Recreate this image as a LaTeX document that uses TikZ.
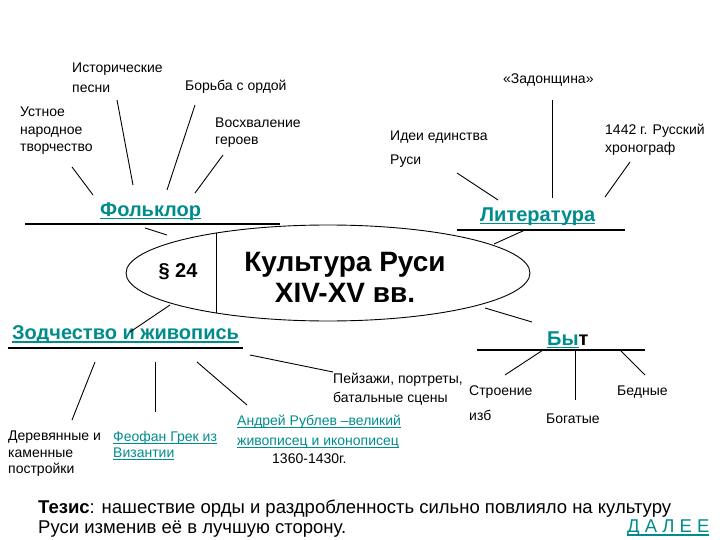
\documentclass[tikz,border=0pt]{standalone}
\usepackage{fontspec}
\setmainfont{Liberation Sans}
\usetikzlibrary{shapes.geometric}
\definecolor{linkteal}{RGB}{0,140,140}
\newcommand{\lnk}[1]{{\color{linkteal}\setbox0\hbox{#1}\rlap{\rule[-2.6pt]{\wd0}{1.1pt}}\box0}}
\newcommand{\fs}[2]{\fontsize{#1}{#2}\selectfont}
\tikzset{
  lbl/.style={anchor=north west,inner sep=0pt,align=left,font=\fs{14}{17.5}},
  lead/.style={font=\fs{14}{#1}},
  head/.style={anchor=west,inner sep=0pt,font=\fs{20}{23}\bfseries},
  rule/.style={line width=2.6pt},
  link/.style={line width=0.9pt}
}
\begin{document}
\begin{tikzpicture}[x=1pt,y=-1pt]
\useasboundingbox (0,0) rectangle (720,540);

      \node[ellipse,draw,line width=0.9pt,minimum width=404pt,minimum height=96pt,inner sep=0pt]
        (core) at (328,273) {};
      \begin{scope}
        \clip (328,273) ellipse [x radius=202pt,y radius=48pt];
        \draw[link] (216,200) -- (216,340);
      \end{scope}
      \node[font=\fs{20}{24}\bfseries] (para) at (178,272) {{\rmfamily\S} 24};
      \node[font=\fs{28}{31}\bfseries,align=center] (title) at (345,277) {Культура Руси\\XIV-XV вв.};

      \begin{scope}[every node/.style={head}]
        \node (folk) at (100,212) {\lnk{Фольклор}};
        \node (lit)  at (480,217) {\lnk{Литература}};
        \node (zod)  at (12,335)  {\lnk{Зодчество и живопись}};
        \node (byt)  at (547,340) {\lnk{Бы}т};
      \end{scope}

      \draw[rule] (25,224) -- (280,224);
      \draw[rule] (457,230) -- (625,230);
      \draw[rule] (8,348) -- (243,348);
      \draw[rule] (477,350) -- (645,350);

      \begin{scope}[every node/.style={lbl}]
        \node[lead=19.5] (hist)   at (72,63)   {Исторические\\песни};
        \node            (borba)  at (185,80)  {Борьба с ордой};
        \node            (ustn)   at (20,107)  {Устное\\народное\\творчество};
        \node[lead=17]   (vosh)   at (215,118) {Восхваление\\героев};
        \node            (zad)    at (503,74)  {«Задонщина»};
        \node[lead=24]   (idei)   at (390,131) {Идеи единства\\Руси};
        \node[lead=18]   (chron)  at (605,124) {1442 г. Русский\\хронограф};
        \node[lead=19]   (peiz)   at (333,373) {Пейзажи, портреты,\\батальные сцены};
        \node[lead=25]   (stroen) at (469,386) {Строение\\изб};
        \node            (bogat)  at (546,414) {Богатые};
        \node            (bedn)   at (617,386) {Бедные};
        \node[lead=16.5] (derev)  at (8,431)   {Деревянные и\\каменные\\постройки};
        \node[lead=16]   (feofan) at (113,431) {\lnk{Феофан Грек из}\\\lnk{Византии}};
        \node[lead=20]   (rublev) at (237,415) {\lnk{Андрей Рублев –великий}\\\lnk{живописец и иконописец}\\[-2pt]\hspace*{35pt}1360-1430г.};
        \node[font=\fs{18.5}{20}] (thesis) at (38,500) {\textbf{Тезис}: нашествие орды и раздробленность сильно повлияло на культуру\\Руси изменив её в лучшую сторону.};
        \node[font=\fs{18.5}{20}] (next)   at (627,520) {\lnk{Д А Л Е Е}};
      \end{scope}

      \coordinate (u1) at (72,167);  \coordinate (u2) at (93,195);
      \coordinate (h1) at (117,100); \coordinate (h2) at (133,185);
      \coordinate (b1) at (195,105); \coordinate (b2) at (167,190);
      \coordinate (v1) at (223,155); \coordinate (v2) at (195,193);
      \coordinate (f1) at (145,228); \coordinate (f2) at (167,235);
      \coordinate (i1) at (457,173); \coordinate (i2) at (498,200);
      \coordinate (z1) at (552,100); \coordinate (z2) at (552,198);
      \coordinate (c1) at (630,162); \coordinate (c2) at (605,197);
      \coordinate (l1) at (525,230); \coordinate (l2) at (494,244);
      \coordinate (d1) at (130,332); \coordinate (d2) at (170,305);
      \coordinate (e1) at (485,308); \coordinate (e2) at (532,322);
      \coordinate (w1) at (95,362);  \coordinate (w2) at (72,420);
      \coordinate (g1) at (155,362); \coordinate (g2) at (155,412);
      \coordinate (r1) at (197,362); \coordinate (r2) at (247,405);
      \coordinate (p1) at (250,355); \coordinate (p2) at (333,372);
      \coordinate (s1) at (543,350); \coordinate (s2) at (505,375);
      \coordinate (q1) at (575,350); \coordinate (q2) at (575,400);
      \coordinate (n1) at (620,350); \coordinate (n2) at (645,375);

      \begin{scope}[link]
        \path (u1) edge (u2);
        \path (h1) edge (h2);
        \path (b1) edge (b2);
        \path (v1) edge (v2);
        \path (f1) edge (f2);
        \path (i1) edge (i2);
        \path (z1) edge (z2);
        \path (c1) edge (c2);
        \path (l1) edge (l2);
        \path (d1) edge (d2);
        \path (e1) edge (e2);
        \path (w1) edge (w2);
        \path (g1) edge (g2);
        \path (r1) edge (r2);
        \path (p1) edge (p2);
        \path (s1) edge (s2);
        \path (q1) edge (q2);
        \path (n1) edge (n2);
      \end{scope}

\end{tikzpicture}
\end{document}
